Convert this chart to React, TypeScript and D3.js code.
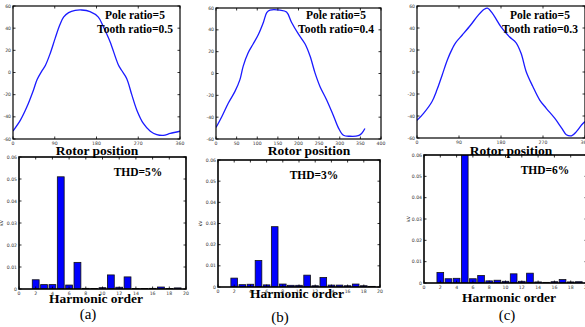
import * as d3 from "d3";

// rotor position (deg) and back-EMF samples for each case
const posA = [0, 16, 30, 44, 52, 62, 70, 80, 91, 101, 109, 120, 134, 148, 166, 184, 195, 209, 227, 234, 245, 256, 267, 281, 296, 310, 324, 339, 360];
const valA = [-52.8, -43, -31, -16, -6.3, 1.2, 6.6, 17, 31, 43, 50, 54, 56, 56.4, 55, 50, 41, 28, 7, 2, -5.4, -20, -34, -46, -53, -56, -56.7, -55, -53];

const posB = [0, 14, 30, 46, 58, 66, 78, 90, 103, 115, 123, 131, 155, 171, 183, 200, 216, 228, 240, 252, 268, 284, 297, 309, 325, 345, 353, 361];
const valB = [-49.5, -39.6, -27, -16.4, -5.6, 6.8, 19, 27, 36, 47, 55.7, 58, 58, 56.3, 47, 36, 27, 16, 0.6, -11.8, -24, -38, -50, -56.6, -57.5, -57, -55, -50.4];

const posC = [0, 14, 32, 43, 54, 65, 76, 83, 97, 115, 130, 144, 151, 162, 180, 198, 212, 223, 234, 248, 263, 277, 295, 310, 320, 331, 342, 353, 360];
const valC = [-44, -37.6, -27, -16, -2.7, 11, 21.5, 26.7, 33.6, 42.7, 51, 57, 58, 53, 41, 32, 26.7, 17, 0.3, -13, -25.5, -33, -42, -51, -57, -58, -54, -48, -45];

// harmonic spectra, orders 2..19
const orders = [2, 3, 4, 5, 6, 7, 8, 9, 10, 11, 12, 13, 14, 15, 16, 17, 18, 19];
const harmA = [0.0042, 0.002, 0.002, 0.051, 0.0018, 0.0121, 0.0003, 0.0002, 0.0006, 0.0064, 0.0008, 0.0055, 0.0002, 0.0002, 0.0003, 0.0009, 0.0002, 0.0005];
const harmB = [0.0042, 0.0011, 0.0013, 0.0125, 0.001, 0.0285, 0.0014, 0.0008, 0.0008, 0.0056, 0.0006, 0.0045, 0.0009, 0.0009, 0.0006, 0.0014, 0.0006, 0.0003];
const harmC = [0.0049, 0.002, 0.0022, 0.075, 0.002, 0.0035, 0.001, 0.0013, 0.0008, 0.0043, 0.0008, 0.0046, 0.0005, 0.0003, 0.0006, 0.0016, 0.0005, 0.0006];

const emfTicks = [-60, -40, -20, 0, 20, 40, 60];
const degTicks = [0, 90, 180, 270, 360];
const degTicksB = [0, 50, 100, 150, 200, 250, 300, 350, 400];
const harmTicks = [0, 2, 4, 6, 8, 10, 12, 14, 16, 18, 20];
const kvTicks = [0, 0.01, 0.02, 0.03, 0.04, 0.05, 0.06];

const serif = "'Liberation Serif', 'Times New Roman', serif";
const tickFont = "'DejaVu Sans', sans-serif";

const Frame = ({ x, y, xt, yt, fmtY, sw }) => {
    const [x0, x1] = x.range();
    const [y0, y1] = y.range();
    const tl = 2.5;
    return (
        <g>
            {xt.map(t => (
                <g key={"x" + t}>
                    <line x1={x(t)} x2={x(t)} y1={y0} y2={y0 - tl} stroke="#000" strokeWidth={0.8} />
                    <line x1={x(t)} x2={x(t)} y1={y1} y2={y1 + tl} stroke="#000" strokeWidth={0.8} />
                    <text x={x(t)} y={y0 + 5.5} fontSize={4.6} fontFamily={tickFont} textAnchor="middle" fill="#333">{t}</text>
                </g>
            ))}
            {yt.map(t => (
                <g key={"y" + t}>
                    <line x1={x0} x2={x0 + tl} y1={y(t)} y2={y(t)} stroke="#000" strokeWidth={0.8} />
                    <line x1={x1} x2={x1 - tl} y1={y(t)} y2={y(t)} stroke="#000" strokeWidth={0.8} />
                    <text x={x0 - 2} y={y(t) + 1.6} fontSize={4.6} fontFamily={tickFont} textAnchor="end" fill="#333">{fmtY(t)}</text>
                </g>
            ))}
            <rect x={x0} y={y1} width={x1 - x0} height={y0 - y1} fill="none" stroke="#000" strokeWidth={sw} />
        </g>
    );
};

const EmfPanel = ({ id, pos, val, box, xMax, xt, tooth, labelX }) => {
    const x = d3.scaleLinear().domain([0, xMax]).range([box.l, box.r]);
    const y = d3.scaleLinear().domain([-60, 60]).range([box.b, box.t]);
    const line = d3.line().x(d => x(d[0])).y(d => y(d[1])).curve(d3.curveCatmullRom);
    const pts = pos.map((p, i) => [p, val[i]]);
    const cx = box.r - 45;
    return (
        <g>
            <clipPath id={id}><rect x={box.l} y={box.t} width={box.r - box.l} height={box.b - box.t} /></clipPath>
            <path d={line(pts)} fill="none" stroke="#1a1aff" strokeWidth={1.3} clipPath={`url(#${id})`} />
            <Frame x={x} y={y} xt={xt} yt={emfTicks} fmtY={t => t} sw={1.2} />
            <text x={cx} y={19} fontSize={11.5} fontWeight="bold" fontFamily={serif} textAnchor="middle">Pole ratio=5</text>
            <text x={cx} y={33} fontSize={11.5} fontWeight="bold" fontFamily={serif} textAnchor="middle">Tooth ratio={tooth}</text>
            <text x={labelX} y={155} fontSize={13.5} fontWeight="bold" fontFamily={serif} textAnchor="middle">Rotor position</text>
        </g>
    );
};

const HarmPanel = ({ id, harm, box, thd, thdX, labelX, labelY, tag, tagX, tagY, kvX }) => {
    const x = d3.scaleLinear().domain([0, 20]).range([box.l, box.r]);
    const y = d3.scaleLinear().domain([0, 0.06]).range([box.b, box.t]);
    const bw = (x(1) - x(0)) * 0.82;
    return (
        <g>
            <clipPath id={id}><rect x={box.l} y={box.t} width={box.r - box.l} height={box.b - box.t} /></clipPath>
            <g clipPath={`url(#${id})`}>
                {orders.map((o, i) => (
                    <rect key={o} x={x(o) - bw / 2} y={y(harm[i])} width={bw} height={y(0) - y(harm[i])}
                        fill="#0000ff" stroke="#111" strokeWidth={0.8} />
                ))}
            </g>
            <Frame x={x} y={y} xt={harmTicks} yt={kvTicks} fmtY={t => t === 0 ? "0" : t.toFixed(2)} sw={1.6} />
            <text x={kvX} y={(box.t + box.b) / 2} fontSize={4.6} fontFamily={tickFont} textAnchor="middle"
                transform={`rotate(-90 ${kvX} ${(box.t + box.b) / 2})`}>kV</text>
            <text x={thdX} y={box.t + 19} fontSize={11.5} fontWeight="bold" fontFamily={serif} textAnchor="middle">{thd}</text>
            <text x={labelX} y={labelY} fontSize={13.5} fontWeight="bold" fontFamily={serif} textAnchor="middle">Harmonic order</text>
            <text x={tagX} y={tagY} fontSize={15} fontFamily={serif} textAnchor="middle">{tag}</text>
        </g>
    );
};

const App = () => {
    return (
        <svg width="585" height="327" style={{ position: "absolute", left: 0, top: 0, background: "#fff" }}>
            <EmfPanel id="ca" pos={posA} val={valA} box={{ l: 13, r: 180, t: 6, b: 139 }} xMax={360} xt={degTicks} tooth="0.5" labelX={97} />
            <EmfPanel id="cb" pos={posB} val={valB} box={{ l: 216, r: 381, t: 8, b: 139 }} xMax={400} xt={degTicksB} tooth="0.4" labelX={309} />
            <EmfPanel id="cc" pos={posC} val={valC} box={{ l: 417, r: 585, t: 6, b: 138 }} xMax={360} xt={degTicks} tooth="0.3" labelX={511} />
            <HarmPanel id="ha" harm={harmA} box={{ l: 19, r: 186, t: 157, b: 289 }} thd="THD=5%" thdX={138}
                labelX={96} labelY={303} tag="(a)" tagX={88} tagY={319} kvX={3} />
            <HarmPanel id="hb" harm={harmB} box={{ l: 218, r: 380, t: 160, b: 287 }} thd="THD=3%" thdX={314}
                labelX={297} labelY={298} tag="(b)" tagX={280} tagY={322} kvX={202} />
            <HarmPanel id="hc" harm={harmC} box={{ l: 424, r: 587, t: 155, b: 283 }} thd="THD=6%" thdX={545}
                labelX={509} labelY={302} tag="(c)" tagX={507} tagY={320} kvX={410} />
        </svg>
    );
};

export default App;
